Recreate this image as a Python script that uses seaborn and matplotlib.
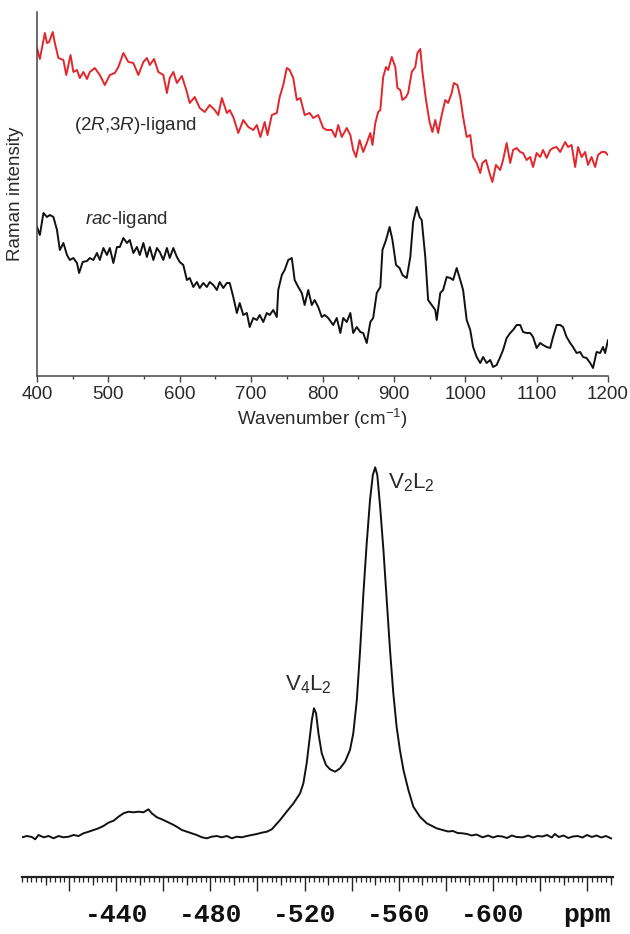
import numpy as np
import pandas as pd
import matplotlib
matplotlib.use("Agg")
import matplotlib.pyplot as plt
from matplotlib.ticker import FixedLocator, FixedFormatter, MultipleLocator
import seaborn as sns

# ---------------- data: Raman spectra ----------------
wn_red = [400, 404, 411, 414, 417, 422, 425, 430, 437, 441,
          447, 451, 456, 460, 465, 470, 474, 481, 488, 495,
          502, 509, 514, 521, 528, 535, 542, 549, 554, 558,
          564, 570, 577, 582, 586, 591, 596, 603, 610, 614,
          621, 628, 635, 642, 649, 654, 659, 666, 670, 675,
          682, 689, 696, 703, 708, 713, 719, 723, 729, 736,
          740, 745, 750, 754, 759, 764, 769, 775, 782, 787,
          794, 801, 806,
          813, 818, 822, 827, 834, 839, 843, 847, 852, 857,
          862, 867, 870, 874, 878, 881, 885, 889, 892, 897,
          902, 905, 909, 912, 917, 920, 925, 930, 933, 937,
          940, 945, 950, 954, 958, 962, 967, 972, 976, 981,
          984, 989, 993, 997, 1002, 1007, 1011, 1016, 1021, 1024,
          1029, 1034, 1038, 1043, 1049, 1053, 1058, 1063, 1067, 1072,
          1077, 1081, 1086, 1091, 1095, 1100, 1105, 1109, 1114, 1119,
          1123, 1128, 1133, 1140, 1144, 1149, 1154, 1158, 1163, 1168,
          1172, 1177, 1182, 1186, 1191, 1196, 1200]
int_red = [328, 317, 343, 333, 334, 344, 333, 318, 316, 301,
           321, 304, 306, 298, 304, 297, 304, 308, 301, 291,
           301, 303, 309, 323, 314, 313, 301, 314, 318, 311,
           317, 304, 301, 283, 298, 304, 293, 300, 284, 273,
           279, 268, 264, 271, 266, 261, 278, 263, 266, 259,
           243, 256, 249, 246, 251, 239, 254, 241, 261, 263,
           279, 291, 308, 306, 298, 276, 278, 261, 263, 258,
           261, 248, 246,
           246, 239, 251, 239, 248, 241, 226, 219, 236, 224,
           233, 243, 231, 253, 264, 266, 299, 309, 306, 319,
           309, 288, 286, 276, 279, 283, 304, 309, 323, 327,
           304, 276, 254, 244, 256, 243, 261, 276, 273, 283,
           293, 291, 279, 259, 239, 241, 219, 213, 203, 213,
           216, 203, 194, 211, 206, 216, 233, 213, 226, 228,
           224, 223, 216, 219, 209, 223, 219, 226, 218, 226,
           228, 229, 224, 234, 229, 231, 209, 229, 219, 224,
           211, 219, 209, 221, 224, 224, 221]

wn_black = [400, 404, 409, 414, 418, 423, 428, 432, 437, 442,
            446, 451, 456, 459, 464, 470, 474, 479, 484, 488,
            493, 498, 502, 507, 512, 516, 521, 526, 530, 535,
            540, 544, 549, 554, 558, 563, 568, 572, 577, 582,
            586, 591, 596, 600, 605, 610, 614, 619, 624, 628,
            633, 638, 642, 647, 652, 656, 661, 666, 670, 675,
            680, 684, 689, 694, 698, 703, 708, 712, 717, 722,
            726, 731, 736, 738, 743, 747, 752, 757, 761, 766,
            771, 775, 780, 785, 789, 794, 799, 803, 808,
            815, 820, 825, 829, 834, 839, 843, 848, 853, 857,
            862, 867, 871, 876, 881, 884, 889, 894, 898, 903,
            908, 912, 918, 923, 927, 932, 936, 939, 944, 948,
            953, 958, 960, 965, 969, 974, 979, 983, 988, 993,
            997, 1002, 1007, 1011, 1016, 1021, 1025, 1030, 1035, 1039,
            1044, 1049, 1053, 1058, 1063, 1067, 1072, 1077, 1081, 1086,
            1091, 1095, 1100, 1105, 1109, 1114, 1119, 1123, 1128, 1133,
            1137, 1142, 1147, 1151, 1156, 1161, 1165, 1170, 1175, 1179,
            1184, 1189, 1193, 1196, 1200]
int_black = [149, 141, 163, 159, 161, 159, 146, 126, 133, 121,
             116, 118, 113, 103, 114, 115, 118, 116, 123, 116,
             128, 121, 128, 113, 129, 129, 138, 133, 136, 123,
             129, 121, 133, 119, 129, 116, 128, 124, 116, 128,
             118, 128, 119, 114, 111, 96, 98, 89, 94, 88,
             93, 89, 94, 91, 86, 94, 88, 93, 93, 79,
             63, 73, 61, 63, 49, 58, 56, 61, 54, 63,
             61, 66, 59, 86, 101, 106, 116, 118, 96, 89,
             83, 71, 86, 71, 76, 69, 59, 61, 58,
             51, 58, 43, 58, 54, 63, 43, 49, 44, 43,
             33, 54, 58, 83, 89, 126, 136, 149, 136, 111,
             108, 101, 98, 119, 154, 169, 159, 156, 119, 76,
             71, 66, 56, 83, 86, 99, 98, 96, 108, 96,
             86, 56, 46, 29, 19, 13, 19, 13, 16, 9,
             11, 19, 26, 38, 43, 46, 51, 51, 44, 43,
             43, 39, 28, 33, 31, 29, 28, 39, 51, 51,
             49, 39, 33, 29, 23, 24, 19, 18, 13, 8,
             24, 23, 29, 23, 36]

raman_ticks = [400, 500, 600, 700, 800, 900, 1000, 1100, 1200]

# ---------------- data: 51V NMR spectrum ----------------
ppm = [-400.0, -402.1, -404.2, -405.6, -407.0, -409.2, -411.3, -413.4, -415.5, -417.6,
       -419.8, -421.9, -424.0, -426.1, -428.3, -430.4, -432.5, -434.6, -436.7, -438.9,
       -441.0, -443.1, -445.2, -447.4, -449.5, -451.6, -453.7, -455.1, -457.3, -459.4,
       -461.5, -463.6, -465.7, -467.9, -470.0, -472.1, -474.2, -476.4, -478.5, -480.6,
       -482.7, -484.8, -487.0, -489.1, -491.2, -493.3, -495.5, -497.6, -499.7, -501.8,
       -504.0, -506.1,
       -509.6, -512.4, -515.3, -518.1, -519.5, -520.9, -522.1, -523.1, -524.0, -524.9,
       -525.9, -527.3, -529.1, -530.8, -533.0, -535.1, -537.2, -539.3, -540.7, -542.2,
       -543.6, -545.0, -546.4, -547.8, -549.0, -550.0, -550.9, -552.1, -553.5, -554.9,
       -556.3, -557.7, -559.1, -560.5, -562.0, -564.1, -566.2, -569.0, -571.9, -576.1,
       -578.6, -581.0, -583.0, -585.0, -587.0, -589.0, -591.0, -593.0, -595.6, -598.0,
       -600.0, -602.0, -604.0, -606.0, -608.0, -610.0, -612.7, -615.0, -617.0, -619.0,
       -621.0, -623.0, -625.0, -626.3, -628.0, -630.0, -632.0, -634.0, -636.0, -638.0,
       -640.0, -642.0, -644.0, -646.0, -648.0, -650.3]
nmr = [-0.3, 1, 0, -2.3, 2, -0.3, 1, -1.3, 1, -0.3,
       0.3, 2, 1, 3.7, 5.3, 7, 8.7, 11, 14.3, 16.3,
       20.3, 23.7, 25.3, 24.7, 25.3, 24.7, 27.7, 23.7, 19.7, 17.7,
       15.3, 13, 10.3, 7, 5.3, 3.7, 2, -0.3, -1.3, 0.3,
       1, -0.3, 1, -1.3, 0.3, -0.3, 1, 2, 3, 4.3,
       5.3, 7.7,
       17, 25.3, 33.7, 43.7, 53.7, 73.7, 97, 117, 128.7, 123.7,
       103.7, 83.7, 72, 67.7, 65.3, 68.7, 75.3, 87, 103.7, 137,
       187, 243.7, 293.7, 337, 362, 369.7, 362, 330.3, 287, 237,
       187, 143.7, 110.3, 87, 67, 47, 30.3, 20.3, 13.7, 8.7,
       7, 5.5, 6, 4, 3.7, 3, 1.5, 2.5, -0.3, 1.5,
       -0.5, 1, 0.5, -1, 1.5, 0, -0.3, 1.5, -0.5, 1,
       0.5, 2, -0.5, 3, 0, 1.5, -1, 0.5, 1, -0.5,
       2, 0, 1.5, -0.5, 1, -1.5]

nmr_major = [-420, -440, -460, -480, -500, -520, -540, -560, -580, -600, -620, -640]
nmr_labels = ["", "-440", "", "-480", "", "-520", "", "-560", "", "-600", "", "ppm"]

# ---------------- style ----------------
sns.set_theme(style="white")
plt.rcParams["font.family"] = ["Liberation Sans", "DejaVu Sans"]
plt.rcParams["mathtext.fontset"] = "custom"
plt.rcParams["mathtext.rm"] = "Liberation Sans"
plt.rcParams["mathtext.it"] = "Liberation Sans:italic"
plt.rcParams["mathtext.bf"] = "Liberation Sans:bold"

TXT = "#2a2a2a"
fig = plt.figure(figsize=(6.3, 9.34), dpi=100)
W, H = 630.0, 934.0

# ---------------- top panel: Raman ----------------
ax1 = fig.add_axes([37 / W, 1 - 376 / H, 571 / W, 364 / H])
df_red = pd.DataFrame({"wn": wn_red, "I": int_red})
df_blk = pd.DataFrame({"wn": wn_black, "I": int_black})
sns.lineplot(data=df_red, x="wn", y="I", ax=ax1, color="#e3262b", lw=1.4,
             estimator=None, sort=False)
sns.lineplot(data=df_blk, x="wn", y="I", ax=ax1, color="#111111", lw=1.4,
             estimator=None, sort=False)
ax1.set_xlim(400, 1200)
ax1.set_ylim(0, 364)
ax1.set_xticks(raman_ticks)
ax1.xaxis.set_minor_locator(MultipleLocator(50))
ax1.set_yticks([])
for s in ["top", "right"]:
    ax1.spines[s].set_visible(False)
for s in ["left", "bottom"]:
    ax1.spines[s].set_color("#444444")
    ax1.spines[s].set_linewidth(1.1)
ax1.tick_params(axis="x", which="major", direction="out", length=4.5, width=1.0,
                color="#444444", labelsize=13.5, labelcolor=TXT, pad=2.5, bottom=True)
ax1.tick_params(axis="x", which="minor", direction="out", length=2.5, width=1.0,
                color="#444444", bottom=True)
ax1.set_xlabel(r"Wavenumber (cm$^{-1}$)", fontsize=13.5, color=TXT, labelpad=3)
ax1.set_ylabel("Raman intensity", fontsize=13.5, color=TXT, labelpad=9)
ax1.text(452, 250, r"(2$\mathit{R}$,3$\mathit{R}$)-ligand", fontsize=13.5,
         color=TXT, ha="left", va="center")
ax1.text(467, 156, r"$\mathit{rac}$-ligand", fontsize=13.5, color=TXT,
         ha="left", va="center")

# ---------------- bottom panel: NMR ----------------
ax2 = fig.add_axes([22 / W, 1 - 877 / H, 591 / W, 415 / H])
df_nmr = pd.DataFrame({"ppm": ppm, "I": nmr})
sns.lineplot(data=df_nmr, x="ppm", y="I", ax=ax2, color="#111111", lw=1.4,
             estimator=None, sort=False)
ax2.set_xlim(-400, -651)
ax2.set_ylim(-40, 375)
ax2.set_yticks([])
ax2.set_xlabel("")
ax2.set_ylabel("")
for s in ["top", "right", "left"]:
    ax2.spines[s].set_visible(False)
ax2.spines["bottom"].set_color("#222222")
ax2.spines["bottom"].set_linewidth(1.6)
ax2.xaxis.set_major_locator(FixedLocator(nmr_major))
ax2.xaxis.set_major_formatter(FixedFormatter(nmr_labels))
ax2.xaxis.set_minor_locator(MultipleLocator(2))
ax2.tick_params(axis="x", which="major", direction="out", length=10, width=1.0,
                color="#222222", pad=9, bottom=True)
ax2.tick_params(axis="x", which="minor", direction="out", length=3.8, width=0.9,
                color="#222222", bottom=True)
for lab in ax2.get_xticklabels():
    lab.set_fontfamily(["Liberation Mono", "DejaVu Sans Mono"])
    lab.set_fontweight("bold")
    lab.set_fontsize(19)
    lab.set_color("#111111")

sec = ax2.secondary_xaxis("bottom")
sec.set_xticks(list(range(-410, -651, -20)))
sec.tick_params(axis="x", which="major", direction="out", length=6, width=0.9,
                color="#222222", labelbottom=False)
sec.xaxis.set_minor_locator(FixedLocator([]))
sec.spines["bottom"].set_visible(False)

ax2.text(-555.4, 354, r"V$_2$L$_2$", fontsize=16, color=TXT, ha="left", va="center")
ax2.text(-511.7, 152, r"V$_4$L$_2$", fontsize=16, color=TXT, ha="left", va="center")

fig.savefig("out.png", dpi=100, facecolor="white")
